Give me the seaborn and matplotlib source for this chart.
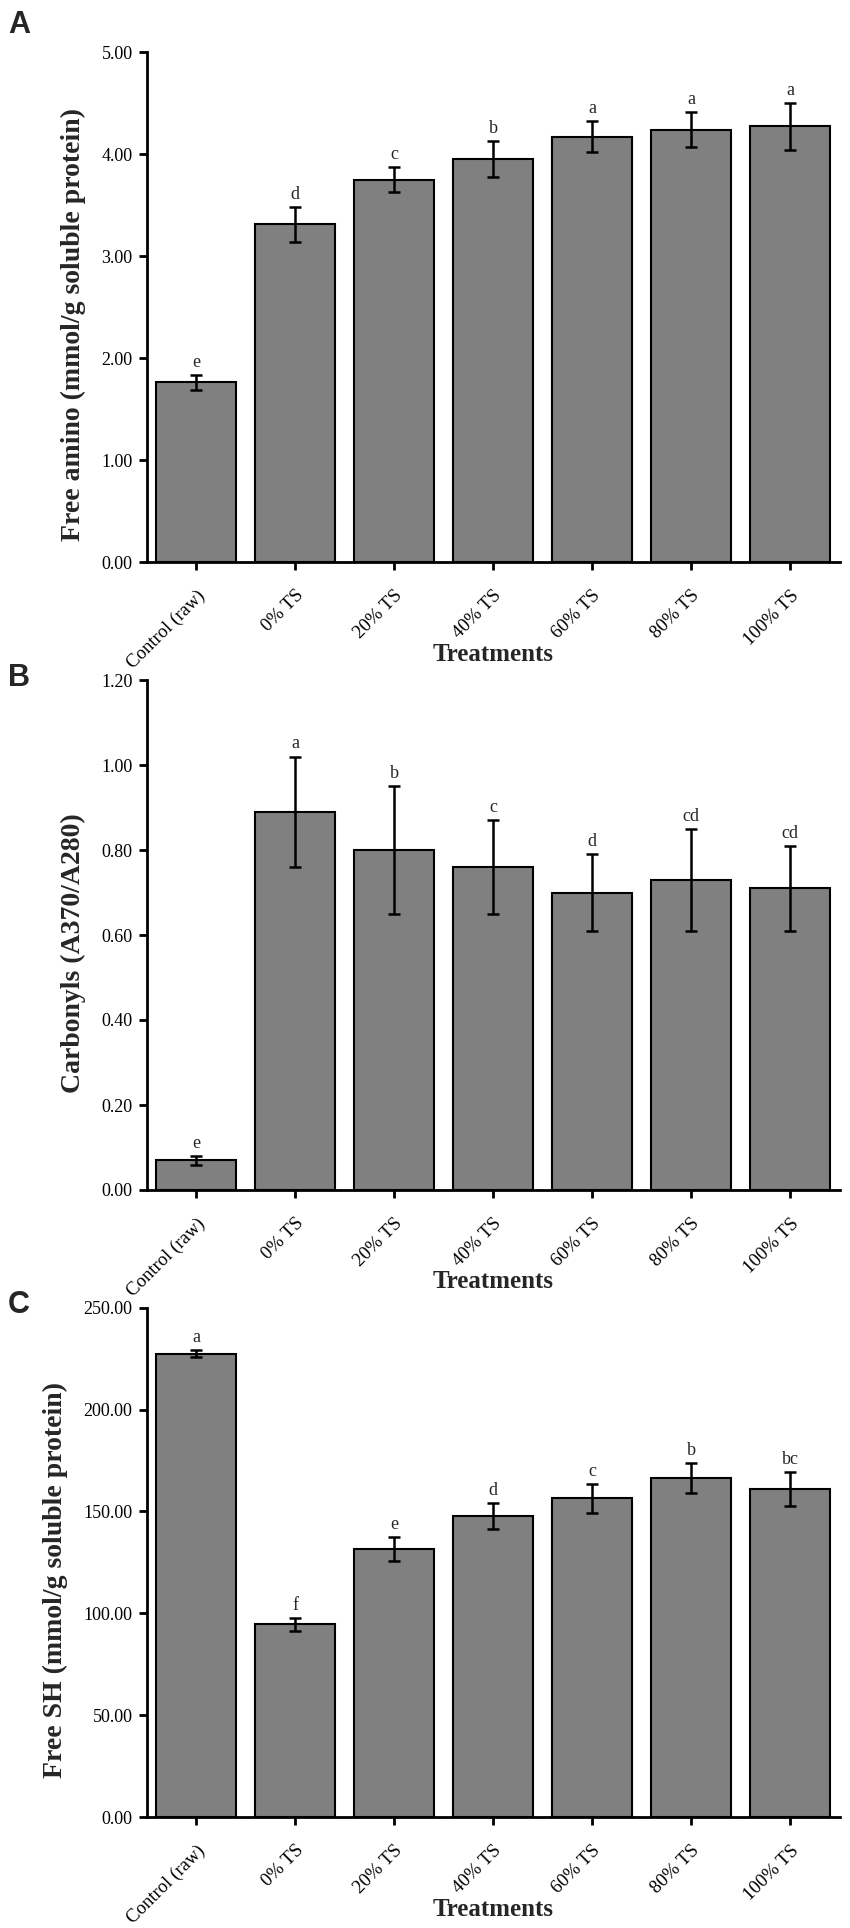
import matplotlib
matplotlib.use("Agg")
import matplotlib.pyplot as plt
import matplotlib.transforms as mtransforms
import seaborn as sns
import pandas as pd
import numpy as np

sns.set_theme(style="ticks")
plt.rcParams['font.family'] = ['Liberation Serif', 'DejaVu Serif']

# data
treatments = ['Control (raw)', '0% TS', '20% TS', '40% TS', '60% TS', '80% TS', '100% TS']

amino_mean = [1.76, 3.31, 3.75, 3.95, 4.17, 4.24, 4.27]
amino_sd = [0.07, 0.17, 0.12, 0.18, 0.15, 0.17, 0.23]
amino_letters = ['e', 'd', 'c', 'b', 'a', 'a', 'a']

carbonyl_mean = [0.07, 0.89, 0.80, 0.76, 0.70, 0.73, 0.71]
carbonyl_sd = [0.01, 0.13, 0.15, 0.11, 0.09, 0.12, 0.10]
carbonyl_letters = ['e', 'a', 'b', 'c', 'd', 'cd', 'cd']

sh_mean = [227.3, 94.5, 131.6, 147.8, 156.4, 166.3, 160.9]
sh_sd = [1.7, 3.0, 5.7, 6.4, 7.0, 7.4, 8.3]
sh_letters = ['a', 'f', 'e', 'd', 'c', 'b', 'bc']

panels = [
    ('A', amino_mean, amino_sd, amino_letters, 'Free amino (mmol/g soluble protein)', 5.0, 1.0),
    ('B', carbonyl_mean, carbonyl_sd, carbonyl_letters, 'Carbonyls (A370/A280)', 1.2, 0.2),
    ('C', sh_mean, sh_sd, sh_letters, 'Free SH (mmol/g soluble protein)', 250.0, 50.0),
]

W, H = 850, 1928
fig = plt.figure(figsize=(W / 100, H / 100), dpi=100)

# axes boxes in pixels: (top px, bottom px)
boxes = [(52, 562), (680, 1190), (1307.7, 1817)]
label_y = [10, 663, 1290]
left_px, right_px = 146.5, 839.5

for (tag, mean, sd, letters, ylab, ymax, step), (top, bot), ly in zip(panels, boxes, label_y):
    ax = fig.add_axes([left_px / W, 1 - bot / H, (right_px - left_px) / W, (bot - top) / H])
    df = pd.DataFrame({'Treatment': treatments, 'Value': mean})
    sns.barplot(data=df, x='Treatment', y='Value', color='#808080', saturation=1,
                edgecolor='black', linewidth=1.5, width=0.81, errorbar=None, ax=ax)
    xs = np.arange(len(treatments))
    ax.errorbar(xs, mean, yerr=sd, fmt='none', ecolor='black', elinewidth=1.8,
                capsize=4, capthick=1.8, zorder=5)
    for x, m, s, let in zip(xs, mean, sd, letters):
        ax.annotate(let, (x, m + s), xytext=(0, 3), textcoords='offset points',
                    ha='center', va='bottom', fontsize=13)

    ax.set_xlim(-0.5, len(treatments) - 0.5)
    ax.set_ylim(0, ymax)
    yt = np.arange(0, ymax + step / 2, step)
    ax.set_yticks(yt)
    ax.set_yticklabels([f'{v:.2f}' for v in yt], fontsize=13)
    ax.set_xticks(xs)
    ax.set_xticklabels(treatments, rotation=45, ha='right', va='top',
                       rotation_mode='anchor', fontsize=13.5)
    shift = mtransforms.ScaledTranslation(0.11, 0, fig.dpi_scale_trans)
    for t in ax.get_xticklabels():
        t.set_transform(t.get_transform() + shift)

    ax.set_ylabel(ylab, fontsize=20, fontweight='bold', labelpad=11)
    ax.yaxis.label.set_y(0.465)
    ax.set_xlabel('Treatments', fontsize=18, fontweight='bold')
    ax.xaxis.set_label_coords(0.5, -92 / (bot - top))
    ax.xaxis.label.set_va('center')

    ax.tick_params(axis='both', direction='out', length=6, width=2, colors='black')
    ax.tick_params(axis='x', pad=12)
    ax.tick_params(axis='y', pad=4)
    for side in ['top', 'right']:
        ax.spines[side].set_visible(False)
    for side in ['left', 'bottom']:
        ax.spines[side].set_linewidth(2)
        ax.spines[side].set_color('black')
    ax.set_facecolor('none')

    fig.text(8 / W, 1 - ly / H, tag, fontsize=22, fontweight='bold',
             family=['Liberation Sans', 'DejaVu Sans'], ha='left', va='top')

fig.savefig('out.png', dpi=100, facecolor='white')
